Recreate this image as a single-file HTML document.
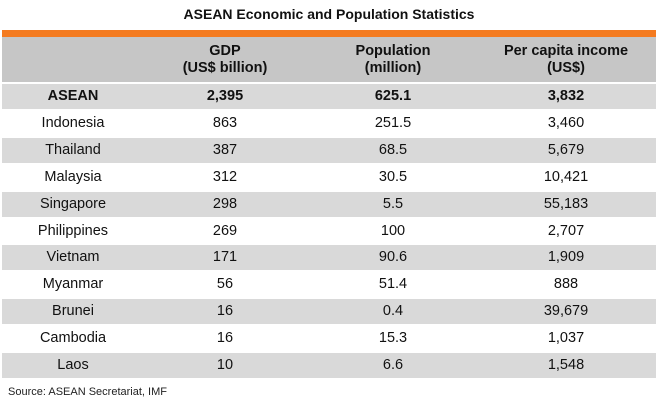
<!DOCTYPE html>
<html><head><meta charset="utf-8"><style>
body{margin:0;width:658px;height:403px;background:#fff;font-family:"Liberation Sans",Arial,sans-serif;color:#111;position:relative;overflow:hidden}
#title{position:absolute;top:6px;left:0;width:658px;text-align:center;font-weight:bold;font-size:14px}
#orange{position:absolute;left:2px;top:30px;width:654px;height:7px;background:#f47b20}
#hdr{position:absolute;left:2px;top:37px;width:654px;height:45px;background:#c6c6c6}
.h{position:absolute;top:6px;text-align:center;font-weight:bold;font-size:14.5px;line-height:17px}
.row{position:absolute;left:2px;width:654px;height:25px;font-size:14.5px}
.row div{position:absolute;top:4px;text-align:center}
.g{background:#d9d9d9}
#src{position:absolute;left:8px;top:386px;font-size:11px;color:#222}
</style></head><body>
<div id="title">ASEAN Economic and Population Statistics</div>
<div id="orange"></div>
<div id="hdr">
<div class="h" style="left:143px;width:160px">GDP<br>(US$ billion)</div>
<div class="h" style="left:311px;width:160px">Population<br>(million)</div>
<div class="h" style="left:484px;width:160px">Per capita income<br>(US$)</div>
</div>
<div id="rows"></div>
<div id="src">Source: ASEAN Secretariat, IMF</div>
<script>
const countries=["ASEAN","Indonesia","Thailand","Malaysia","Singapore","Philippines","Vietnam","Myanmar","Brunei","Cambodia","Laos"];
const gdp=["2,395","863","387","312","298","269","171","56","16","16","10"];
const population=["625.1","251.5","68.5","30.5","5.5","100","90.6","51.4","0.4","15.3","6.6"];
const perCapita=["3,832","3,460","5,679","10,421","55,183","2,707","1,909","888","39,679","1,037","1,548"];
const cont=document.getElementById('rows');
const cols=[[0,142],[143,160],[311,160],[484,160]];
countries.forEach((c,i)=>{
  const r=document.createElement('div');
  r.className='row'+(i%2===0?' g':'');
  r.style.top=(84+i*26.9)+'px';
  
  
  const vals=[c,gdp[i],population[i],perCapita[i]];
  const names=['country','gdp','population','per-capita'];
  vals.forEach((v,j)=>{
    const d=document.createElement('div');
    d.style.left=cols[j][0]+'px';d.style.width=cols[j][1]+'px';
    if(i===0)d.style.fontWeight='bold';
    d.textContent=v;
    
    
    r.appendChild(d);
  });
  cont.appendChild(r);
});
</script>
</body></html>
